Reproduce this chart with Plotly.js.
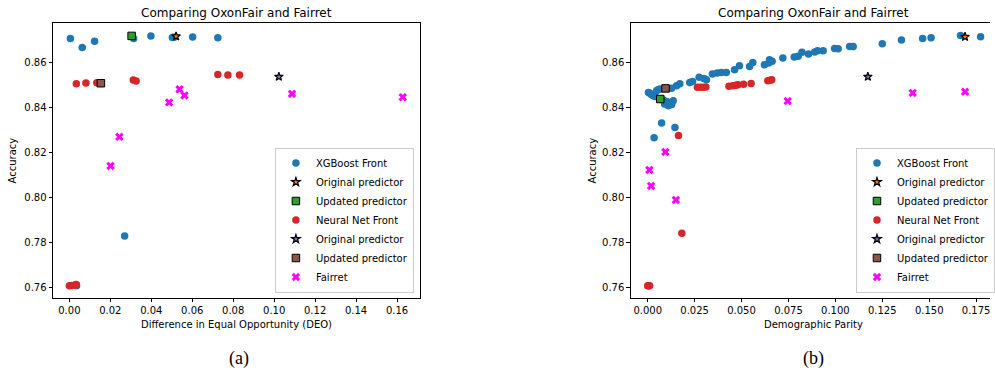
<!DOCTYPE html>
<html>
<head>
<meta charset="utf-8">
<script src="https://cdn.plot.ly/plotly-3.0.1.min.js"></script>
<style>html,body{margin:0;padding:0;background:#fff;}#chart{width:995px;height:376px;}</style>
</head>
<body>
<div id="chart"></div>
<script>
// ---------- (a) Difference in Equal Opportunity ----------
const deoXgbX = [0.0005, 0.0063, 0.0123, 0.0314, 0.0398, 0.0503, 0.0512, 0.0602, 0.0725, 0.0270, 0.0035];
const deoXgbY = [0.8704, 0.8665, 0.8692, 0.8705, 0.8716, 0.8709, 0.8710, 0.8711, 0.8708, 0.7828, 0.7607];
const deoXgbOrigX = [0.0521];
const deoXgbOrigY = [0.8714];
const deoXgbUpdX = [0.0304];
const deoXgbUpdY = [0.8716];
const deoNnX = [0.0000, 0.0012, 0.0030, 0.0034, 0.0034, 0.0081, 0.0134, 0.0312, 0.0326, 0.0725, 0.0774, 0.0831];
const deoNnY = [0.7607, 0.7608, 0.7611, 0.7613, 0.8504, 0.8507, 0.8508, 0.8520, 0.8516, 0.8545, 0.8542, 0.8542];
const deoNnOrigX = [0.1023];
const deoNnOrigY = [0.8535];
const deoNnUpdX = [0.0154];
const deoNnUpdY = [0.8506];
const deoFairretX = [0.0201, 0.0244, 0.0487, 0.0538, 0.0562, 0.1087, 0.1628];
const deoFairretY = [0.8139, 0.8268, 0.8421, 0.8479, 0.8452, 0.8459, 0.8444];

// ---------- (b) Demographic Parity ----------
const dpXgbX = [0.0004, 0.0012, 0.0021, 0.0030, 0.0039, 0.0048, 0.0056, 0.0065, 0.0083, 0.0090, 0.0101, 0.0110, 0.0118, 0.0128, 0.0136,
  0.0034, 0.0074, 0.0145, 0.0127, 0.0154, 0.0171, 0.0224, 0.0239, 0.0274, 0.0299, 0.0313, 0.0345, 0.0370, 0.0392, 0.0419,
  0.0463, 0.0489, 0.0543, 0.0560, 0.0622, 0.0645, 0.0649, 0.0663, 0.0720, 0.0781, 0.0802, 0.0822, 0.0857, 0.0890, 0.0905,
  0.0935, 0.0996, 0.1015, 0.1076, 0.1095, 0.1250, 0.1352, 0.1465, 0.1510, 0.1667, 0.1774, 0.0005];
const dpXgbY = [0.8465, 0.8462, 0.8455, 0.8450, 0.8447, 0.8474, 0.8477, 0.8480, 0.8432, 0.8414, 0.8425, 0.8406, 0.8418, 0.8412, 0.8428,
  0.8264, 0.8329, 0.8309, 0.8484, 0.8495, 0.8504, 0.8509, 0.8514, 0.8533, 0.8527, 0.8521, 0.8547, 0.8551, 0.8554, 0.8554,
  0.8566, 0.8584, 0.8580, 0.8598, 0.8588, 0.8596, 0.8610, 0.8603, 0.8618, 0.8622, 0.8626, 0.8643, 0.8636, 0.8645, 0.8650,
  0.8650, 0.8660, 0.8659, 0.8669, 0.8669, 0.8681, 0.8698, 0.8704, 0.8708, 0.8718, 0.8712, 0.7607];
const dpXgbOrigX = [0.1691];
const dpXgbOrigY = [0.8712];
const dpXgbUpdX = [0.0067];
const dpXgbUpdY = [0.8436];
const dpNnX = [0.0000, 0.0010, 0.0182, 0.0164, 0.0265, 0.0280, 0.0295, 0.0310, 0.0433, 0.0454, 0.0470, 0.0481, 0.0511, 0.0551, 0.0640, 0.0652, 0.0661];
const dpNnY = [0.7607, 0.7607, 0.7840, 0.8274, 0.8488, 0.8488, 0.8488, 0.8489, 0.8493, 0.8495, 0.8497, 0.8499, 0.8502, 0.8505, 0.8517, 0.8519, 0.8521];
const dpNnOrigX = [0.1173];
const dpNnOrigY = [0.8535];
const dpNnUpdX = [0.0095];
const dpNnUpdY = [0.8483];
const dpFairretX = [0.0009, 0.0018, 0.0094, 0.0150, 0.0746, 0.1412, 0.1691];
const dpFairretY = [0.8121, 0.8050, 0.8201, 0.7988, 0.8427, 0.8463, 0.8468];

const yTicks = [0.76, 0.78, 0.80, 0.82, 0.84, 0.86];
const deoTicks = [0.00, 0.02, 0.04, 0.06, 0.08, 0.10, 0.12, 0.14, 0.16];
const dpTicks = [0.000, 0.025, 0.050, 0.075, 0.100, 0.125, 0.150, 0.175];

const labels = ['XGBoost Front', 'Original predictor', 'Updated predictor', 'Neural Net Front', 'Original predictor', 'Updated predictor', 'Fairret'];
const titleText = 'Comparing OxonFair and Fairret';

const C = {blue: '#1f77b4', orange: '#ff7f0e', green: '#2ca02c', red: '#d62728', purple: '#9467bd', brown: '#8c564b', magenta: '#ff00ff'};

function makeTraces(sets, xa, ya, leg) {
  const styles = [
    {symbol: 'circle', color: C.blue, size: 7.5, line: {width: 0}},
    {symbol: 'star', color: C.orange, size: 6.5, line: {width: 1.2, color: '#000'}},
    {symbol: 'square', color: C.green, size: 7.5, line: {width: 1, color: '#000'}},
    {symbol: 'circle', color: C.red, size: 7.5, line: {width: 0}},
    {symbol: 'star', color: C.purple, size: 6.5, line: {width: 1.2, color: '#000'}},
    {symbol: 'square', color: C.brown, size: 7.5, line: {width: 1, color: '#000'}},
    {symbol: 'x', color: C.magenta, size: 7.5, line: {width: 0}}
  ];
  return sets.map((s, i) => ({
    type: 'scatter', mode: 'markers', x: s[0], y: s[1], xaxis: xa, yaxis: ya,
    name: labels[i], legend: leg, marker: styles[i], hoverinfo: 'x+y'
  }));
}

const traces = [].concat(
  makeTraces([[deoXgbX, deoXgbY], [deoXgbOrigX, deoXgbOrigY], [deoXgbUpdX, deoXgbUpdY], [deoNnX, deoNnY], [deoNnOrigX, deoNnOrigY], [deoNnUpdX, deoNnUpdY], [deoFairretX, deoFairretY]], 'x', 'y', 'legend'),
  makeTraces([[dpXgbX, dpXgbY], [dpXgbOrigX, dpXgbOrigY], [dpXgbUpdX, dpXgbUpdY], [dpNnX, dpNnY], [dpNnOrigX, dpNnOrigY], [dpNnUpdX, dpNnUpdY], [dpFairretX, dpFairretY]], 'x2', 'y2', 'legend2')
);

const W = 995, H = 376;
const font = {family: 'DejaVu Sans, sans-serif', size: 10, color: '#000'};
const axisCommon = {
  showgrid: false, zeroline: false, showline: true, linecolor: '#000', linewidth: 1,
  ticks: 'outside', ticklen: 3.5, tickwidth: 1, tickcolor: '#000', tickfont: font, fixedrange: true
};
const yDomain = [1 - 297.7 / H, 1 - 23.3 / H];

function legendAt(xRight) {
  return {
    x: xRight / W, xanchor: 'right', y: 1 - 292.5 / H, yanchor: 'bottom',
    bgcolor: 'rgba(255,255,255,0.8)', bordercolor: '#cccccc', borderwidth: 1,
    font: font, tracegroupgap: 0, itemwidth: 30
  };
}

function ann(text, xpx, ypx, opts) {
  return Object.assign({text: text, x: xpx / W, y: 1 - ypx / H, xref: 'paper', yref: 'paper',
    xanchor: 'center', yanchor: 'middle', showarrow: false, font: font}, opts || {});
}

const layout = {
  width: W, height: H, autosize: false,
  margin: {l: 0, r: 0, t: 0, b: 0, pad: 0},
  paper_bgcolor: '#fff', plot_bgcolor: '#fff',
  showlegend: true,
  font: font,
  xaxis: Object.assign({}, axisCommon, {domain: [53.3 / W, 421.7 / W], range: [-0.00797, 0.1710],
    tickvals: deoTicks, ticktext: deoTicks.map(v => v.toFixed(2)), mirror: true, anchor: 'y'}),
  yaxis: Object.assign({}, axisCommon, {domain: yDomain, range: [0.7554, 0.8772],
    tickvals: yTicks, ticktext: yTicks.map(v => v.toFixed(2)), mirror: true, anchor: 'x'}),
  xaxis2: Object.assign({}, axisCommon, {domain: [634 / W, 1], range: [-0.0090, 0.1824],
    tickvals: dpTicks, ticktext: dpTicks.map(v => v.toFixed(3)), mirror: true, anchor: 'y2'}),
  yaxis2: Object.assign({}, axisCommon, {domain: yDomain, range: [0.7554, 0.8772],
    tickvals: yTicks, ticktext: yTicks.map(v => v.toFixed(2)), mirror: false, anchor: 'x2'}),
  legend: legendAt(416),
  legend2: legendAt(1000),
  annotations: [
    ann(titleText, 237.5, 13.3, {font: Object.assign({}, font, {size: 12})}),
    ann(titleText, 818, 13.3, {font: Object.assign({}, font, {size: 12})}),
    ann('Difference in Equal Opportunity (DEO)', 237.5, 324),
    ann('Demographic Parity', 818, 324),
    ann('Accuracy', 13, 160.5, {textangle: -90}),
    ann('Accuracy', 595, 160.5, {textangle: -90}),
    ann('(a)', 240, 358, {font: {family: 'Liberation Serif, Times New Roman, serif', size: 18, color: '#000'}}),
    ann('(b)', 818, 358, {font: {family: 'Liberation Serif, Times New Roman, serif', size: 18, color: '#000'}})
  ]
};

Plotly.newPlot('chart', traces, layout, {staticPlot: true, displayModeBar: false});
</script>
</body>
</html>
